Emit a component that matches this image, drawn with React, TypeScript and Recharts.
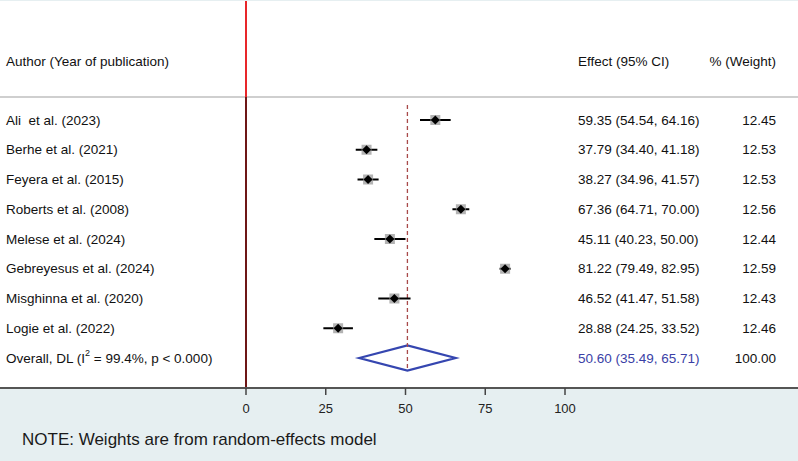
import React from 'react'
import { ScatterChart, Scatter, XAxis, YAxis, ErrorBar, ReferenceLine, ReferenceArea } from 'recharts'

const authors = [
  'Ali\u00a0\u00a0et al. (2023)',
  'Berhe et al. (2021)',
  'Feyera et al. (2015)',
  'Roberts et al. (2008)',
  'Melese et al. (2024)',
  'Gebreyesus et al. (2024)',
  'Misghinna et al. (2020)',
  'Logie et al. (2022)',
]
const effects = [59.35, 37.79, 38.27, 67.36, 45.11, 81.22, 46.52, 28.88]
const lowers = [54.54, 34.4, 34.96, 64.71, 40.23, 79.49, 41.47, 24.25]
const uppers = [64.16, 41.18, 41.57, 70.0, 50.0, 82.95, 51.58, 33.52]
const weights = [12.45, 12.53, 12.53, 12.56, 12.44, 12.59, 12.43, 12.46]

const overallEffect = 50.6
const overallLower = 35.49
const overallUpper = 65.71
const overallWeight = 100.0
const i2 = '99.4%'
const pText = 'p < 0.000'

const xTicks = [0, 25, 50, 75, 100]

const FONT = '"Liberation Sans", Arial, sans-serif'
const W = 798
const H = 461
const ROW0 = 120
const ROW_H = 29.75
const PLOT_BOTTOM = 388
// x scale: value 0 at px 246, 3.19 px per unit
const X0 = 246
const PX = 3.19
const xDomain = [-X0 / PX, (W - X0) / PX]
const yDomain = [-ROW0 / ROW_H, (PLOT_BOTTOM - ROW0) / ROW_H]
const pxToRow = (py: number) => (py - ROW0) / ROW_H

const fmt = (v: number) => v.toFixed(2)

const studies = authors.map((a, i) => ({
  x: effects[i],
  y: i,
  err: [effects[i] - lowers[i], uppers[i] - effects[i]],
  label: a,
  ci: `${fmt(effects[i])} (${fmt(lowers[i])}, ${fmt(uppers[i])})`,
  w: fmt(weights[i]),
}))

const overall = [
  {
    x: overallEffect,
    y: authors.length,
    ci: `${fmt(overallEffect)} (${fmt(overallLower)}, ${fmt(overallUpper)})`,
    w: fmt(overallWeight),
  },
]

const header = [{ x: 0, y: pxToRow(61) }]

const txt = { fontFamily: FONT, fontSize: 13.5, fill: '#111' }

function StudyShape(props: any) {
  const { cx, cy, payload } = props
  const b = 5
  const d = 4.5
  return (
    <g>
      <rect x={cx - b} y={cy - b} width={b * 2} height={b * 2} fill="#9a9a9a" opacity={0.75} />
      <polygon points={`${cx},${cy - d} ${cx + d},${cy} ${cx},${cy + d} ${cx - d},${cy}`} fill="#000" />
      <text x={6} y={cy} dominantBaseline="central" {...txt}>{payload.label}</text>
      <text x={578} y={cy} dominantBaseline="central" {...txt}>{payload.ci}</text>
      <text x={776} y={cy} dominantBaseline="central" textAnchor="end" {...txt}>{payload.w}</text>
    </g>
  )
}

function OverallShape(props: any) {
  const { cy, payload } = props
  return (
    <g>
      <text x={6} y={cy} dominantBaseline="central" {...txt}>
        Overall, DL (I<tspan fontSize={9} dy={-5}>2</tspan>
        <tspan dy={5}>{` = ${i2}, ${pText})`}</tspan>
      </text>
      <text x={578} y={cy} dominantBaseline="central" {...txt} fill="#3b3fa6">{payload.ci}</text>
      <text x={776} y={cy} dominantBaseline="central" textAnchor="end" {...txt}>{payload.w}</text>
    </g>
  )
}

function HeaderShape(props: any) {
  const { cy } = props
  return (
    <g>
      <text x={6} y={cy} dominantBaseline="central" {...txt}>Author (Year of publication)</text>
      <text x={578} y={cy} dominantBaseline="central" {...txt}>Effect (95% CI)</text>
      <text x={776} y={cy} dominantBaseline="central" textAnchor="end" {...txt}>% (Weight)</text>
    </g>
  )
}

function DiamondShape(props: any) {
  const { x, y, width, height } = props
  const l = Math.min(x, x + width)
  const r = Math.max(x, x + width)
  const t = Math.min(y, y + height)
  const bt = Math.max(y, y + height)
  const my = (t + bt) / 2
  const mx = (l + r) / 2
  return (
    <polygon
      points={`${l},${my} ${mx},${t} ${r},${my} ${mx},${bt}`}
      fill="none"
      stroke="#3546b0"
      strokeWidth={2.2}
    />
  )
}

export default function App() {
  const sepRow = pxToRow(97)
  return (
    <div
      style={{
        position: 'absolute',
        left: 0,
        top: 0,
        width: W,
        height: H,
        background: `linear-gradient(to bottom, #ffffff 0px, #ffffff ${PLOT_BOTTOM}px, #e6eff1 ${PLOT_BOTTOM}px)`,
        borderTop: '1px solid #e6eff1',
        boxSizing: 'border-box',
        fontFamily: FONT,
      }}
    >
      <ScatterChart width={W} height={H - 1} margin={{ top: -1, right: 0, bottom: 0, left: 0 }}>
        <XAxis
          type="number"
          dataKey="x"
          domain={xDomain}
          allowDataOverflow
          ticks={xTicks}
          height={H - PLOT_BOTTOM}
          stroke="#555"
          strokeWidth={2}
          tickSize={7}
          tickMargin={9}
          tick={{ fontSize: 13, fill: '#222', fontFamily: FONT }}
          tickLine={{ stroke: '#444', strokeWidth: 1.5 }}
        />
        <YAxis type="number" dataKey="y" domain={yDomain} allowDataOverflow reversed hide />
        <ReferenceLine y={sepRow} stroke="#cfcfcf" strokeWidth={2} />
        <ReferenceLine
          segment={[{ x: 0, y: yDomain[0] }, { x: 0, y: sepRow }]}
          stroke="#e8262a"
          strokeWidth={2}
        />
        <ReferenceLine
          segment={[{ x: 0, y: sepRow }, { x: 0, y: yDomain[1] }]}
          stroke="#6e1616"
          strokeWidth={2}
        />
        <ReferenceLine
          segment={[{ x: overallEffect, y: pxToRow(105) }, { x: overallEffect, y: pxToRow(371) }]}
          stroke="#a84a4a"
          strokeWidth={1.3}
          strokeDasharray="4 3"
        />
        <ReferenceArea
          x1={overallLower}
          x2={overallUpper}
          y1={authors.length - 0.42}
          y2={authors.length + 0.42}
          shape={DiamondShape}
        />
        <Scatter data={header} shape={HeaderShape} isAnimationActive={false} />
        <Scatter data={studies} shape={StudyShape} isAnimationActive={false}>
          <ErrorBar dataKey="err" direction="x" width={0} stroke="#000" strokeWidth={2} />
        </Scatter>
        <Scatter data={overall} shape={OverallShape} isAnimationActive={false} />
      </ScatterChart>
      <div
        style={{
          position: 'absolute',
          left: 22,
          top: 429,
          fontSize: 17,
          color: '#1a1a1a',
          fontFamily: FONT,
          whiteSpace: 'nowrap',
        }}
      >
        NOTE: Weights are from random-effects model
      </div>
    </div>
  )
}
